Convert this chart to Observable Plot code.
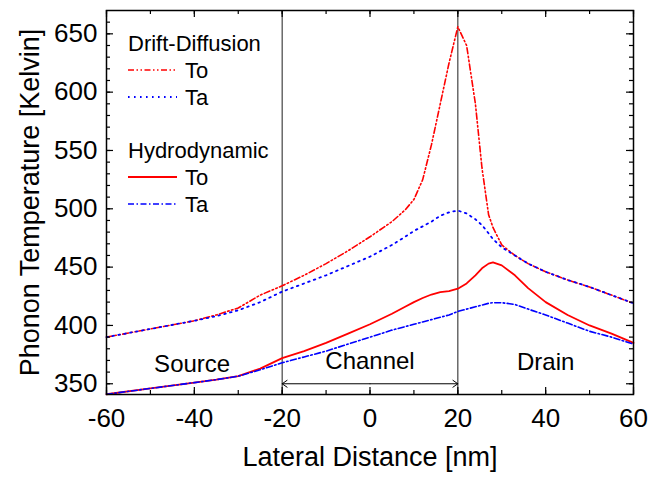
<!DOCTYPE html>
<html>
<head>
<meta charset="utf-8">
<script src="https://cdn.jsdelivr.net/npm/d3@7"></script>
<script src="https://cdn.jsdelivr.net/npm/@observablehq/plot@0.6"></script>
<style>
  body { margin: 0; background: #fff; }
  #wrap { position: relative; width: 666px; height: 477px; font-family: "Liberation Sans", Arial, sans-serif; }
  #legend { position: absolute; left: 0; top: 0; }
</style>
</head>
<body>
<div id="wrap"></div>
<script>
// Lateral distance grid [nm]
const xNm = [-60,-50,-40,-35,-30,-25,-20,-15,-10,-5,0,5,8,10,12,14,16,18,20,22,24,25.5,27,28,30,33,36,40,45,50,55,60];
// Drift-Diffusion model
const ddTo = [390,397,404,409,415,426,434,443,453,464,476,489,499,508,525,555,590,625,656,640,590,535,495,484,469,460,453,446,439,433,426,419];
const ddTa = [390,397,404,408,413,420,429,436,443,451,459,469,476,481,485,489,494,497,498.5,496,491,486,479,474,467,460,453,446,439,433,426,419];
// Hydrodynamic model
const hdTo = [341,346,351,353.5,356.5,363,372,378,385,393,401,410,416,420,423.5,426.5,428.5,429.5,431.5,436,443,449,453,454,451.5,443,432,420,409,400,393,385];
const hdTa = [341,346,351,353.5,356.5,362,368,373,378,384,390,396,399,401,403,405,407,409,412,414,416,417.5,419,419.5,419.5,418,414,409,402,395,390,384];

// Region annotations
const regionBounds = [-20, 20];
const regionLabels = [
  {x: -40.5, y: 366.5, text: "Source"},
  {x: 0, y: 369, text: "Channel"},
  {x: 40, y: 368, text: "Drain"}
];
const arrowY = 350;

// Ticks
const xMajor = [-60,-40,-20,0,20,40,60];
const xMinor = d3.range(-60, 61, 10);
const yMajor = [350,400,450,500,550,600,650];
const yMinor = d3.range(350, 661, 10);

const W = 666, H = 477;
const mL = 106, mR = 33, mT = 10, mB = 83;
const fW = W - mL - mR, fH = H - mT - mB;
const font = "Liberation Sans, Arial, sans-serif";

const series = [
  {name: "ddTo", y: ddTo, color: "#ff0000", dash: "6,2.5,1.5,2.5,1.5,2.5", w: 1.6},
  {name: "ddTa", y: ddTa, color: "#0000ff", dash: "1.6,4.4", w: 1.8},
  {name: "hdTo", y: hdTo, color: "#ff0000", dash: null, w: 1.8},
  {name: "hdTa", y: hdTa, color: "#0000ff", dash: "6,2.5,1.5,2.5", w: 1.6}
];

const lineMarks = series.map(s => Plot.line(xNm.map((x, i) => ({x, y: s.y[i]})), {
  x: "x", y: "y", stroke: s.color, strokeWidth: s.w, strokeDasharray: s.dash, curve: "linear"
}));

const chart = Plot.plot({
  width: W, height: H,
  marginLeft: mL, marginRight: mR, marginTop: mT, marginBottom: mB,
  style: {fontFamily: font, background: "white"},
  x: {domain: [-60, 60]},
  y: {domain: [340.8, 670]},
  marks: [
    Plot.ruleX(regionBounds, {x: d => d, stroke: "#333", strokeWidth: 1.1}),
    Plot.arrow([{a: 0, b: -20}, {a: 0, b: 20}], {x1: "a", x2: "b", y1: () => arrowY, y2: () => arrowY, stroke: "black", strokeWidth: 1, headLength: 9, headAngle: 70}),
    Plot.text(regionLabels, {x: "x", y: "y", text: "text", fontSize: 24, fill: "black", fontFamily: font}),
    ...lineMarks,
    // inward ticks: bottom/top
    Plot.ruleX(xMinor, {x: d => d, insetTop: fH - 4, stroke: "black", strokeWidth: 1.2}),
    Plot.ruleX(xMajor, {x: d => d, insetTop: fH - 7, stroke: "black", strokeWidth: 1.2}),
    Plot.ruleX(xMinor, {x: d => d, insetBottom: fH - 4, stroke: "black", strokeWidth: 1.2}),
    Plot.ruleX(xMajor, {x: d => d, insetBottom: fH - 7, stroke: "black", strokeWidth: 1.2}),
    // inward ticks: left/right
    Plot.ruleY(yMinor, {y: d => d, insetRight: fW - 4, stroke: "black", strokeWidth: 1.2}),
    Plot.ruleY(yMajor, {y: d => d, insetRight: fW - 7, stroke: "black", strokeWidth: 1.2}),
    Plot.ruleY(yMinor, {y: d => d, insetLeft: fW - 4, stroke: "black", strokeWidth: 1.2}),
    Plot.ruleY(yMajor, {y: d => d, insetLeft: fW - 7, stroke: "black", strokeWidth: 1.2}),
    Plot.frame({stroke: "black", strokeWidth: 1.5}),
    Plot.axisX(xMajor, {tickSize: 0, tickPadding: 14, fontSize: 26, label: null, fill: "black", tickFormat: d => String(d)}),
    Plot.axisY(yMajor, {tickSize: 0, tickPadding: 9, fontSize: 26, label: null, fill: "black", tickFormat: d => String(d)}),
    Plot.text(["Lateral Distance [nm]"], {frameAnchor: "bottom", dy: 71, text: d => d, fontSize: 27, fill: "black", textAnchor: "middle"}),
    Plot.text(["Phonon Temperature [Kelvin]"], {frameAnchor: "left", dx: -76, rotate: -90, text: d => d, fontSize: 27, fill: "black", textAnchor: "middle"})
  ]
});

const wrap = document.getElementById("wrap");
wrap.appendChild(chart);

// Legend overlay
const legendGroups = [
  {title: "Drift-Diffusion", ty: 43.5, items: [{label: "To", s: series[0], y: 70}, {label: "Ta", s: series[1], y: 97}]},
  {title: "Hydrodynamic", ty: 150, items: [{label: "To", s: series[2], y: 177}, {label: "Ta", s: series[3], y: 204}]}
];
const svg = d3.select(wrap).append("svg").attr("id", "legend").attr("width", W).attr("height", H)
  .style("font-family", font);
legendGroups.forEach(g => {
  svg.append("text").attr("x", 128).attr("y", g.ty).attr("dy", "0.35em").attr("font-size", 22).text(g.title);
  g.items.forEach(it => {
    svg.append("line").attr("x1", 128).attr("x2", 177).attr("y1", it.y).attr("y2", it.y)
      .attr("stroke", it.s.color).attr("stroke-width", it.s.w).attr("stroke-dasharray", it.s.dash);
    svg.append("text").attr("x", 185).attr("y", it.y).attr("dy", "0.35em").attr("font-size", 22).text(it.label);
  });
});
</script>
</body>
</html>
